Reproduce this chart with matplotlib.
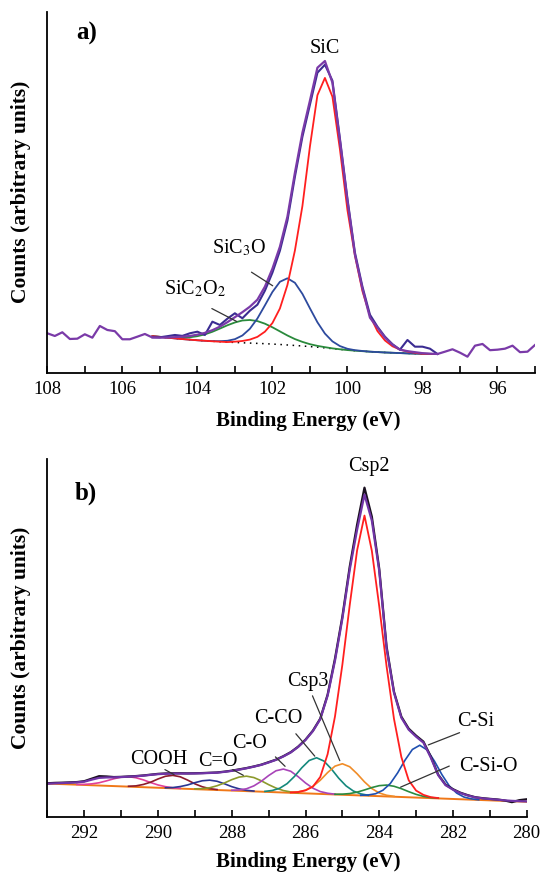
import numpy as np
import matplotlib
matplotlib.use("Agg")
import matplotlib.pyplot as plt
from matplotlib.ticker import MultipleLocator

plt.rcParams["font.family"] = ["Liberation Serif", "DejaVu Serif"]
plt.rcParams["mathtext.fontset"] = "stix"

# ---------------- panel a) Si 2p ----------------
# measured spectrum, 108 -> 95 eV every 0.2 eV
e_a_full = np.round(np.arange(108.0, 94.99, -0.2), 1)
meas_a = [39.4, 36.7, 40.4, 33.7, 34.0, 38.4, 35.0, 46.7, 42.7, 41.5,
          33.4, 33.4, 36.0, 38.7, 35.2, 35.0, 35.2, 35.5, 36.0, 36.7,
          38.0, 39.8, 42.5, 46.0, 50.5, 55.5, 60.5, 66.0, 73.0, 86.0,
          104, 126, 156, 200, 240, 272, 305, 311.7, 290, 232,
          172, 118, 84, 55, 45, 35, 28, 23, 21.5, 20.5,
          19.5, 19.0, 18.7, 21.0, 23.4, 20.0, 16.0, 27.0, 28.7, 22.5,
          23.0, 24.0, 27.0, 20.5, 21.0, 27.7]

# fitted region, 105.2 -> 97.6 eV every 0.2 eV
e_a = np.round(np.arange(105.2, 97.59, -0.2), 1)
fit_a = [35.4, 35.4, 36.5, 37.7, 36.8, 39.4, 41.0, 37.7, 51.0, 47.7,
         54.0, 59.4, 54.4, 62.0, 68.0, 82, 100, 122, 152, 196,
         236, 268, 300, 308, 292, 234, 174, 120, 86, 58,
         46, 36, 28.5, 23, 32.7, 26, 26, 24, 18.7]
base_a = [36.5, 35.8, 35.0, 34.3, 33.6, 33.0, 32.4, 31.9, 31.4, 31.0,
          30.6, 30.2, 29.9, 29.6, 29.3, 29.0, 28.6, 28.2, 27.7, 27.2,
          26.7, 26.1, 25.5, 24.8, 24.0, 23.3, 22.6, 22.0, 21.5, 21.0,
          20.6, 20.2, 19.9, 19.6, 19.3, 19.1, 18.9, 18.8, 18.7]
sic = [36.5, 35.8, 35.0, 34.3, 33.6, 33.0, 32.4, 31.9, 31.4, 31.0,
       30.6, 31.0, 31.7, 33.1, 35.8, 41.0, 49.6, 64.2, 87.7, 122.2,
       166.7, 226.1, 277.5, 294.8, 276, 223.3, 162.6, 117, 81.5, 57,
       41.6, 32.2, 26.4, 23.1, 21.1, 19.9, 18.9, 18.8, 18.7]
sic3o = [36.5, 35.8, 35.0, 34.3, 33.6, 33.0, 32.4, 31.9, 31.6, 31.5,
         31.9, 33.5, 37.2, 43.9, 54.2, 67.3, 80.7, 90.9, 94.4, 89.9,
         78.8, 64.4, 50.4, 39.1, 31.3, 26.6, 23.9, 22.5, 21.7, 21.0,
         20.6, 20.2, 19.9, 19.6, 19.3, 19.1, 18.9, 18.8, 18.7]
sic2o2 = [36.5, 35.9, 35.3, 35.0, 34.9, 35.4, 36.5, 38.3, 40.9, 44.1,
          47.4, 50.2, 52.2, 52.7, 51.6, 49.0, 45.4, 41.3, 37.2, 33.6,
          30.8, 28.5, 26.8, 25.5, 24.3, 23.4, 22.6, 22.0, 21.5, 21.0,
          20.6, 20.2, 19.9, 19.6, 19.3, 19.1, 18.9, 18.8, 18.7]

# ---------------- panel b) C 1s ----------------
e_b_full = np.round(np.arange(293.0, 279.99, -0.2), 1)
data_b = [33.4, 33.8, 34.0, 34.3, 34.6, 35.5, 38.0, 40.5, 40.2, 39.6,
          39.8, 40.2, 40.6, 41.2, 42.0, 42.8, 43.2, 43.4, 43.4, 43.3,
          43.4, 43.6, 43.9, 44.2, 45.0, 46.0, 47.3, 48.6, 50.2, 52.0,
          54.5, 57.0, 60.5, 64.5, 70.0, 77.0, 86.0, 98.0, 122, 158,
          200, 250, 292, 329, 300, 248, 170, 125, 100, 88,
          81, 75, 60, 42, 32, 27.5, 24.0, 21.5, 19.5, 18.5,
          17.8, 17.2, 16.2, 14.5, 16.5, 17.4]
env_b = [33.0, 33.3, 33.6, 33.9, 34.3, 35.0, 37.0, 38.8, 39.2, 39.3,
         39.6, 40.0, 40.4, 41.0, 41.8, 42.5, 42.9, 43.1, 43.1, 43.1,
         43.2, 43.4, 43.7, 44.0, 44.8, 45.8, 47.0, 48.4, 50.0, 51.8,
         54.2, 56.8, 60.2, 64.2, 69.7, 76.7, 85.5, 97.5, 121, 156,
         198, 247, 287, 322, 296, 246, 168, 124, 99, 87,
         80, 74, 59, 41.5, 31.5, 27.0, 23.6, 21.2, 19.3, 18.3,
         17.6, 17.0, 16.3, 15.8, 15.5, 15.2]
base_b_e = [293.0, 280.0]
base_b = [33.1, 14.9]

e_csp2 = np.round(np.arange(286.4, 282.39, -0.2), 1)
csp2 = [24.2, 24.6, 26.3, 30.0, 39.7, 62.5, 100.2, 151.9, 211.6, 266.3,
        301.1, 265.8, 210.5, 150.2, 97.9, 59.7, 36.4, 26.1, 21.8, 19.5, 18.6]
e_csp3 = np.round(np.arange(286.4, 283.59, -0.2), 1)
csp3 = [24.3, 24.8, 26.5, 30.3, 36.4, 44.1, 50.5, 52.9, 49.9, 42.9,
        34.8, 28.1, 23.7, 21.4, 20.3]
e_cco = np.round(np.arange(287.1, 284.29, -0.2), 1)
cco = [25.3, 26.2, 28.4, 33.0, 40.2, 48.9, 56.2, 58.9, 55.6, 47.8,
       38.5, 30.8, 25.6, 22.8, 21.4]
e_co = np.round(np.arange(288.0, 285.19, -0.2), 1)
co = [26.4, 26.7, 27.9, 30.8, 35.4, 41.1, 45.9, 47.6, 45.4, 40.0,
      33.7, 28.5, 25.1, 23.4, 22.5]
e_cdo = np.round(np.arange(289.0, 286.19, -0.2), 1)
cdo = [27.8, 28.0, 28.9, 30.9, 33.7, 37.0, 39.6, 40.5, 39.1, 35.9,
       32.0, 28.6, 26.1, 24.7, 23.9]
e_p288 = np.round(np.arange(289.8, 287.39, -0.2), 1)
p288 = [28.9, 29.1, 30.1, 31.7, 34.0, 35.9, 36.5, 35.4, 32.9, 30.0,
        27.8, 26.3, 25.6]
e_cooh = np.round(np.arange(290.8, 288.39, -0.2), 1)
cooh = [30.4, 30.8, 32.2, 34.5, 37.7, 40.4, 41.3, 39.9, 36.6, 32.8,
        29.9, 28.0, 27.1]
e_p291 = np.round(np.arange(292.2, 289.39, -0.2), 1)
p291 = [32.2, 32.3, 32.8, 33.9, 35.8, 37.9, 39.5, 40.0, 38.9, 36.8,
        34.1, 31.7, 30.0, 28.9, 28.3]
e_csi = np.round(np.arange(284.5, 281.29, -0.2), 1)
csi = [21.4, 21.7, 22.9, 26.4, 33.1, 43.8, 56.5, 67.2, 71.4, 66.7,
       55.4, 42.1, 30.8, 23.6, 19.6, 17.8, 16.9]
e_csio = np.round(np.arange(285.2, 282.39, -0.2), 1)
csio = [22.4, 22.5, 23.1, 24.5, 26.7, 29.1, 31.0, 31.6, 30.4, 28.0,
        25.0, 22.3, 20.3, 19.1, 18.5]

fig = plt.figure(figsize=(5.42, 8.74), dpi=100)
ax1 = fig.add_axes([0.0873, 0.5736, 0.8998, 0.4130])
ax2 = fig.add_axes([0.0876, 0.0656, 0.8841, 0.4093])

# panel a
ax1.plot(e_a, base_a, color="black", linestyle=(0, (1, 3)), lw=1.1)
ax1.plot(e_a, sic2o2, color="#2a8a3c", lw=1.3)
ax1.plot(e_a, sic3o, color="#2d4a9e", lw=1.3)
ax1.plot(e_a, sic, color="#ff1f1f", lw=1.3)
ax1.plot(e_a, fit_a, color="#3b2c92", lw=1.5)
ax1.plot(e_a_full, meas_a, color="#7a3aa8", lw=1.6)
ax1.set_xlim(108, 95)
ax1.set_ylim(0, 361)

ax1.text(100.59, 324.4, "SiC", fontsize=14.5, ha="center", va="center")
ax1.text(102.89, 124.4, "SiC$_3$O", fontsize=14.5, ha="center", va="center")
ax1.text(104.05, 83.4, "SiC$_2$O$_2$", fontsize=14.5, ha="center", va="center")
ax1.annotate("", xy=(101.93, 85.4), xytext=(102.62, 102),
             arrowprops=dict(arrowstyle="-", color="#333333", lw=0.9))
ax1.annotate("", xy=(102.89, 50), xytext=(103.68, 65.4),
             arrowprops=dict(arrowstyle="-", color="#333333", lw=0.9))
ax1.text(0.080, 0.940, "a)", transform=ax1.transAxes, fontsize=18,
         fontweight="bold", ha="center", va="center")

# panel b
ax2.plot(base_b_e, base_b, color="#f07818", lw=1.4)
ax2.plot(e_p291, p291, color="#e0409a", lw=1.2)
ax2.plot(e_cooh, cooh, color="#8c1a2c", lw=1.2)
ax2.plot(e_p288, p288, color="#2a3592", lw=1.2)
ax2.plot(e_cdo, cdo, color="#8c9a2c", lw=1.2)
ax2.plot(e_co, co, color="#a844b8", lw=1.2)
ax2.plot(e_cco, cco, color="#14887c", lw=1.2)
ax2.plot(e_csp3, csp3, color="#f08c28", lw=1.2)
ax2.plot(e_csio, csio, color="#2a8a40", lw=1.2)
ax2.plot(e_csi, csi, color="#1f4fb0", lw=1.2)
ax2.plot(e_csp2, csp2, color="#ff1f1f", lw=1.3)
ax2.plot(e_b_full, data_b, color="#1a1020", lw=1.6)
ax2.plot(e_b_full, env_b, color="#7034a6", lw=1.6)
ax2.set_xlim(293, 280)
ax2.set_ylim(0, 357.7)

labels_b = ["Csp2", "Csp3", "C-CO", "C-O", "C=O", "COOH", "C-Si", "C-Si-O"]
label_e = [284.29, 285.95, 286.73, 287.53, 288.37, 289.97, 281.38, 281.05]
label_c = [350, 135, 98.4, 73.4, 55, 56.7, 95, 50]
for t, x, y in zip(labels_b, label_e, label_c):
    ax2.text(x, y, t, fontsize=14.5, ha="center", va="center")
leaders_b = [((285.84, 123.4), (285.04, 53.4)),
             ((286.31, 85), (285.70, 58.4)),
             ((286.87, 61.7), (286.50, 48.4)),
             ((288.04, 48.4), (287.62, 40)),
             ((289.88, 48.4), (289.5, 40.7)),
             ((281.75, 85), (282.74, 70.7)),
             ((282.03, 51.7), (283.49, 28.4))]
for start, end in leaders_b:
    ax2.annotate("", xy=end, xytext=start,
                 arrowprops=dict(arrowstyle="-", color="#333333", lw=0.9))
ax2.text(0.081, 0.904, "b)", transform=ax2.transAxes, fontsize=18,
         fontweight="bold", ha="center", va="center")

for ax, lx, ly, yy in [(ax1, 0.536, -0.106, -0.034), (ax2, 0.545, -0.099, -0.034)]:
    ax.spines["top"].set_visible(False)
    ax.spines["right"].set_visible(False)
    ax.spines["left"].set_linewidth(1.3)
    ax.spines["bottom"].set_linewidth(1.3)
    ax.set_yticks([])
    ax.xaxis.set_major_locator(MultipleLocator(2))
    ax.xaxis.set_minor_locator(MultipleLocator(1))
    ax.tick_params(axis="x", which="both", direction="in", length=5, width=1.2,
                   labelsize=13.5, pad=6)
    ax.set_xlabel("Binding Energy (eV)", fontsize=15, fontweight="bold")
    ax.set_ylabel("Counts (arbitrary units)", fontsize=15.5, fontweight="bold")
    ax.xaxis.set_label_coords(lx, ly)
    ax.yaxis.set_label_coords(yy, 0.5)

fig.savefig("out.png", dpi=100)
